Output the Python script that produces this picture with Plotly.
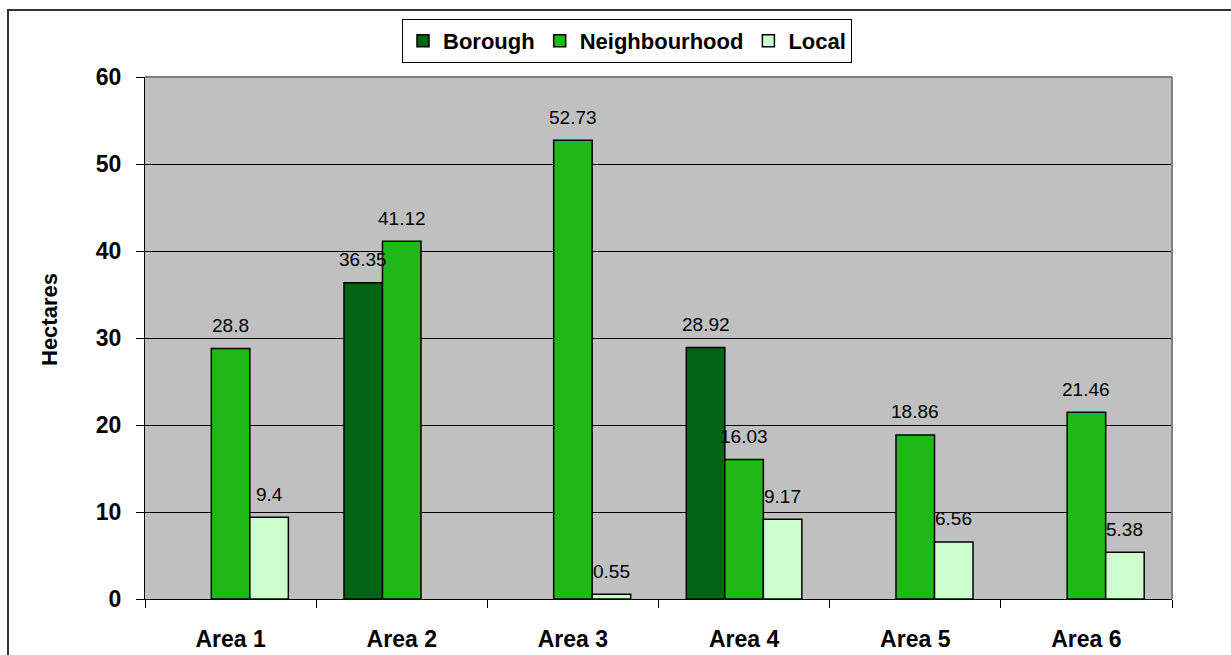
import plotly.graph_objects as go

# Open space provision (hectares) by hierarchy for each area
areas = ["Area 1", "Area 2", "Area 3", "Area 4", "Area 5", "Area 6"]
borough = [None, 36.35, None, 28.92, None, None]
neighbourhood = [28.8, 41.12, 52.73, 16.03, 18.86, 21.46]
local = [9.4, None, 0.55, 9.17, 6.56, 5.38]

series = [
    ("Borough", borough, "#006414"),
    ("Neighbourhood", neighbourhood, "#1FB71A"),
    ("Local", local, "#CCFFCC"),
]

FONT = "Liberation Sans, Arial, sans-serif"
W, H = 1231, 655
M_L, M_R, M_T, M_B = 145, 59, 77, 56
PW = W - M_L - M_R
PH = H - M_T - M_B

BARGAP = 0.325
bar_w = (1 - BARGAP) / len(series)
xpos = list(range(len(areas)))

fig = go.Figure()
annotations = []
for j, (name, vals, color) in enumerate(series):
    fig.add_trace(go.Bar(
        name=name, x=xpos, y=vals,
        marker=dict(color=color, line=dict(color="black", width=1.5)),
    ))
    offset = (j - (len(series) - 1) / 2) * bar_w
    for i, v in enumerate(vals):
        if v is None:
            continue
        annotations.append(dict(
            x=i + offset, y=v, xref="x", yref="y",
            text=f"{v:g}", showarrow=False,
            yanchor="middle", yshift=23,
            font=dict(family=FONT, size=19, color="black"),
        ))

# y-axis title
annotations.append(dict(
    x=(49 - M_L) / PW, y=1 - (320 - M_T) / PH, xref="paper", yref="paper",
    xanchor="center", yanchor="middle",
    text="<b>Hectares</b>", textangle=-90, showarrow=False,
    font=dict(family=FONT, size=22, color="black"),
))

shapes = [
    # outer chart frame
    dict(type="rect", xref="paper", yref="paper",
         x0=(8 - M_L) / PW, x1=1.3, y0=-0.4, y1=1 + (M_T - 10) / PH,
         line=dict(color="#333333", width=2), layer="below"),
    # plot area top and right edges
    dict(type="line", xref="paper", yref="paper", x0=0, x1=1, y0=1, y1=1,
         line=dict(color="#808080", width=2), layer="above"),
    dict(type="line", xref="paper", yref="paper", x0=1, x1=1, y0=0, y1=1,
         line=dict(color="#808080", width=2), layer="above"),
]

fig.update_layout(
    width=W, height=H,
    margin=dict(l=M_L, r=M_R, t=M_T, b=M_B),
    barmode="group", bargap=BARGAP, bargroupgap=0,
    paper_bgcolor="white", plot_bgcolor="#C0C0C0",
    font=dict(family=FONT, color="black"),
    legend=dict(
        orientation="h", xanchor="center", yanchor="top",
        x=(627 - M_L) / PW, y=1 + (M_T - 19) / PH,
        bordercolor="black", borderwidth=1, bgcolor="white",
        font=dict(family=FONT, size=22, color="black", weight="bold"),
        itemwidth=30, tracegroupgap=0,
    ),
    annotations=annotations,
    shapes=shapes,
    showlegend=True,
)

fig.update_xaxes(
    range=[-0.5, len(areas) - 0.5], automargin=False,
    tickvals=xpos, ticktext=areas, ticks="",
    ticklabelstandoff=19,
    tickfont=dict(family=FONT, size=23, color="black", weight="bold"),
    showline=True, linecolor="black", linewidth=1,
    showgrid=False, zeroline=False,
    minor=dict(tickvals=[i - 0.5 for i in range(len(areas) + 1)],
               ticks="outside", ticklen=8, tickcolor="black", showgrid=False),
)
fig.update_yaxes(
    range=[0, 60], tickvals=[0, 10, 20, 30, 40, 50, 60], automargin=False,
    ticks="outside", ticklen=8, tickcolor="black",
    ticklabelstandoff=10,
    tickfont=dict(family=FONT, size=23, color="black", weight="bold"),
    showline=True, linecolor="black", linewidth=1,
    showgrid=True, gridcolor="black", gridwidth=1, zeroline=False,
)

fig.write_html("out.html")
